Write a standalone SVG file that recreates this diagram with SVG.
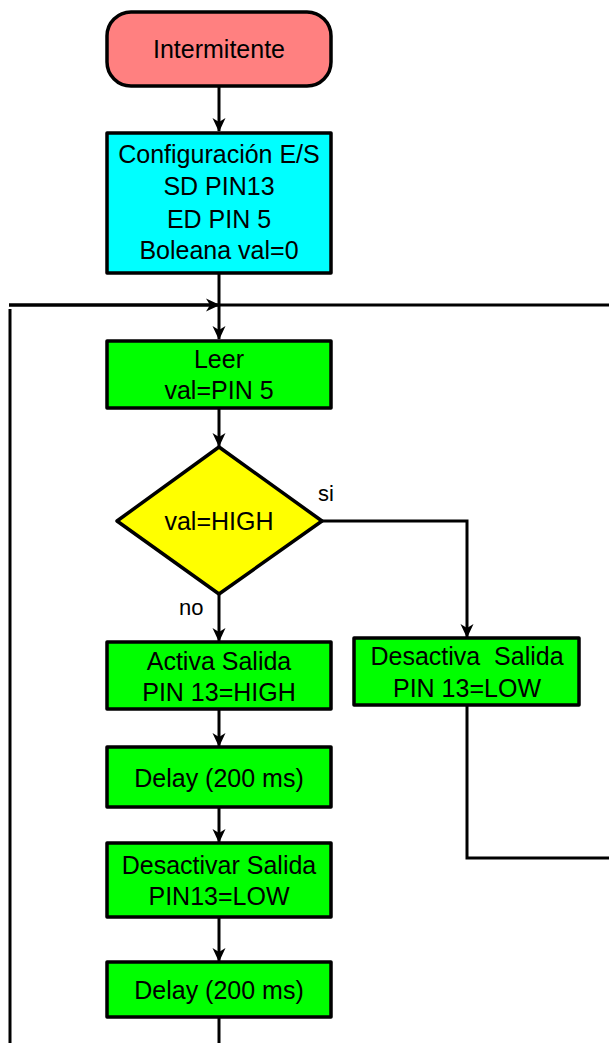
<svg xmlns="http://www.w3.org/2000/svg" width="609" height="1043" viewBox="0 0 609 1043">
<style>
.box{stroke:#000;stroke-width:3.5;stroke-linejoin:round}
.ln{fill:none;stroke:#000;stroke-width:3}
text{font-family:"Liberation Sans",Arial,sans-serif;font-size:25px;fill:#000;text-anchor:middle}
.lbl{text-anchor:start;font-size:22px}
.g{fill:#00FF00}
</style>
<defs>
<marker id="ah" markerWidth="14" markerHeight="14" viewBox="0 0 14 14" refX="13" refY="7" orient="auto" markerUnits="userSpaceOnUse">
<path d="M0,0.5 L14,7 L0,13.5 L4,7 z" fill="#000"/>
</marker>
</defs>
<rect width="609" height="1043" fill="#fff"/>
<g id="connectors">
<line class="ln" x1="219" y1="86" x2="219" y2="131" marker-end="url(#ah)"/>
<line class="ln" x1="219" y1="274" x2="219" y2="339" marker-end="url(#ah)"/>
<line class="ln" x1="9" y1="305" x2="609" y2="305"/>
<line class="ln" x1="9" y1="305" x2="219" y2="305" marker-end="url(#ah)"/>
<line class="ln" x1="10" y1="309" x2="10" y2="1043"/>
<line class="ln" x1="219" y1="408" x2="219" y2="446" marker-end="url(#ah)"/>
<polyline class="ln" points="322,521 467,521 467,637" marker-end="url(#ah)"/>
<line class="ln" x1="219" y1="594" x2="219" y2="641" marker-end="url(#ah)"/>
<polyline class="ln" points="467,706 467,858 609,858"/>
<line class="ln" x1="219" y1="710" x2="219" y2="746" marker-end="url(#ah)"/>
<line class="ln" x1="219" y1="807" x2="219" y2="842" marker-end="url(#ah)"/>
<line class="ln" x1="219" y1="918" x2="219" y2="961" marker-end="url(#ah)"/>
<line class="ln" x1="219" y1="1017" x2="219" y2="1043"/>
<text class="lbl" x="318" y="501">si</text>
<text class="lbl" x="179" y="615">no</text>
</g>
<g id="start">
<rect class="box" x="107" y="12" width="224" height="74" rx="24" ry="24" fill="#FF8080"/>
<text x="219" y="58">Intermitente</text>
</g>
<g id="config">
<rect class="box" x="107" y="133" width="224" height="140" fill="#00FFFF"/>
<text x="219" y="163">Configuración E/S</text>
<text x="219" y="195">SD PIN13</text>
<text x="219" y="228">ED PIN 5</text>
<text x="219" y="259">Boleana val=0</text>
</g>
<g id="leer">
<rect class="box g" x="107" y="341" width="224" height="67"/>
<text x="219" y="368">Leer</text>
<text x="219" y="399">val=PIN 5</text>
</g>
<g id="decision">
<polygon class="box" points="219,447 322,521 219,594 117,521" fill="#FFFF00"/>
<text x="219" y="530">val=HIGH</text>
</g>
<g id="activa">
<rect class="box g" x="107" y="642" width="224" height="67"/>
<text x="219" y="670">Activa Salida</text>
<text x="219" y="701">PIN 13=HIGH</text>
</g>
<g id="desactiva">
<rect class="box g" x="354" y="638" width="225" height="67"/>
<text x="467" y="665" xml:space="preserve">Desactiva  Salida</text>
<text x="467" y="697">PIN 13=LOW</text>
</g>
<g id="delay1">
<rect class="box g" x="107" y="747" width="224" height="60"/>
<text x="219" y="787">Delay (200 ms)</text>
</g>
<g id="desactivar">
<rect class="box g" x="107" y="843" width="224" height="74"/>
<text x="219" y="874">Desactivar Salida</text>
<text x="219" y="905">PIN13=LOW</text>
</g>
<g id="delay2">
<rect class="box g" x="107" y="962" width="224" height="55"/>
<text x="219" y="999">Delay (200 ms)</text>
</g>
</svg>
